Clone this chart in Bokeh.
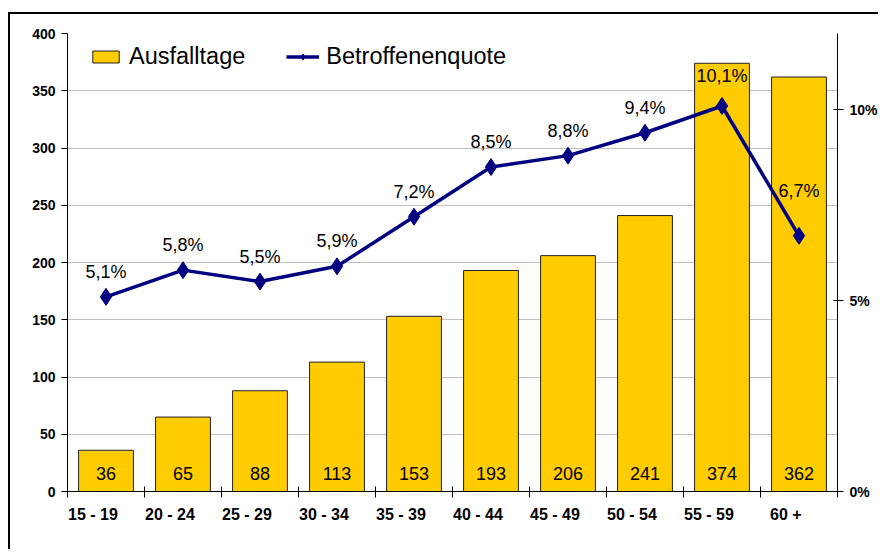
from bokeh.plotting import figure
from bokeh.models import Range1d, LinearAxis, FixedTicker, ColumnDataSource, Legend, LegendItem
from bokeh.core.properties import value
from bokeh.embed import file_html
from bokeh.resources import INLINE

categories = ["15 - 19", "20 - 24", "25 - 29", "30 - 34", "35 - 39",
              "40 - 44", "45 - 49", "50 - 54", "55 - 59", "60 +"]
ausfalltage = [36, 65, 88, 113, 153, 193, 206, 241, 374, 362]
quote = [5.1, 5.8, 5.5, 5.9, 7.2, 8.5, 8.8, 9.4, 10.1, 6.7]
left_ticks = [0, 50, 100, 150, 200, 250, 300, 350, 400]
right_ticks = [0, 5, 10]
right_labels = {0: "0%", 5: "5%", 10: "10%"}

# styling: label distance (px) above each line point, as placed in the original
label_gap = [25, 25, 25, 25, 25, 25, 25, 25, 30, 45]
LABEL_SHIFT = 0.17  # category labels sit left of the category centre

FONT = "Liberation Sans"
n = len(categories)
centers = [i + 0.5 for i in range(n)]
bounds = list(range(n + 1))

src = ColumnDataSource(dict(
    x=centers, top=ausfalltage, bar_label=[str(v) for v in ausfalltage],
    q=quote, q_label=[f"{v:.1f}".replace(".", ",") + "%" for v in quote],
    q_dy=[-g for g in label_gap],
))

p = figure(width=870, height=537, output_backend="svg", toolbar_location=None,
           x_range=Range1d(0, n), y_range=Range1d(0, 400),
           min_border_left=57, min_border_right=41, min_border_top=19, min_border_bottom=60)
p.margin = (12, 0, 0, 8)
p.styles = {"border-left": "2px solid black", "border-top": "2px solid black"}
p.outline_line_color = None
p.background_fill_color = "white"
p.border_fill_color = "white"
p.extra_y_ranges = {"pct": Range1d(0, 12)}

# grid
p.xgrid.visible = False
p.ygrid.ticker = FixedTicker(ticks=left_ticks)
p.ygrid.grid_line_color = "#c0c0c0"
p.ygrid.grid_line_width = 1

# left axis
ya = p.yaxis[0]
ya.ticker = FixedTicker(ticks=left_ticks)
ya.major_label_text_font = FONT
ya.major_label_text_font_style = "bold"
ya.major_label_text_font_size = "14px"
ya.major_label_text_color = "black"
ya.axis_line_color = "black"
ya.major_tick_line_color = "black"
ya.major_tick_out = 6
ya.major_tick_in = 0
ya.minor_tick_line_color = None
ya.major_label_standoff = 6

# bottom axis: tick marks at category boundaries (minor ticks), labels near category starts
label_pos = [c - LABEL_SHIFT for c in centers]
xa = p.xaxis[0]
xa.ticker = FixedTicker(ticks=label_pos, minor_ticks=bounds)
xa.major_label_overrides = {pos: cat for pos, cat in zip(label_pos, categories)}
xa.major_label_text_font = FONT
xa.major_label_text_font_style = "bold"
xa.major_label_text_font_size = "16px"
xa.major_label_text_color = "black"
xa.major_label_standoff = 8
xa.axis_line_color = "black"
xa.major_tick_line_color = None
xa.major_tick_out = 0
xa.major_tick_in = 0
xa.minor_tick_line_color = "black"
xa.minor_tick_out = 6
xa.minor_tick_in = 5

# right axis
ra = LinearAxis(y_range_name="pct", ticker=FixedTicker(ticks=right_ticks),
                major_label_overrides=right_labels)
ra.major_label_text_font = FONT
ra.major_label_text_font_style = "bold"
ra.major_label_text_font_size = "14px"
ra.major_label_text_color = "black"
ra.axis_line_color = "black"
ra.major_tick_line_color = "black"
ra.major_tick_out = 6
ra.major_tick_in = 4
ra.minor_tick_line_color = None
ra.major_label_standoff = 6
p.add_layout(ra, "right")

# bars
bars = p.vbar(x="x", top="top", width=0.712, source=src, fill_color="#FFCC00",
              line_color="#222222", line_width=1)
p.text(x="x", y=0, text="bar_label", source=src, y_offset=-18,
       text_align="center", text_baseline="alphabetic", text_font=value(FONT),
       text_font_size="18px", text_color="black")

# line
ln = p.line(x="x", y="q", source=src, y_range_name="pct", line_color="#000080", line_width=3.5)
mk = p.scatter(x="x", y="q", source=src, y_range_name="pct", marker="diamond", size=17,
               fill_color="#000080", line_color="#000080")
p.text(x="x", y="q", text="q_label", source=src, y_range_name="pct", y_offset="q_dy",
       text_align="center", text_baseline="alphabetic", text_font=value(FONT),
       text_font_size="18px", text_color="black")

# legend
legend = Legend(items=[LegendItem(label="Ausfalltage", renderers=[bars]),
                       LegendItem(label="Betroffenenquote", renderers=[ln, mk])],
                orientation="horizontal", location=(22, 421),
                glyph_width=33, glyph_height=15, spacing=41, label_standoff=7,
                padding=0, margin=0, border_line_color=None, background_fill_alpha=0,
                label_text_font=FONT, label_text_font_size="23.5px", label_text_color="black")
p.add_layout(legend, "center")

open("out.html", "w").write(file_html(p, INLINE))
